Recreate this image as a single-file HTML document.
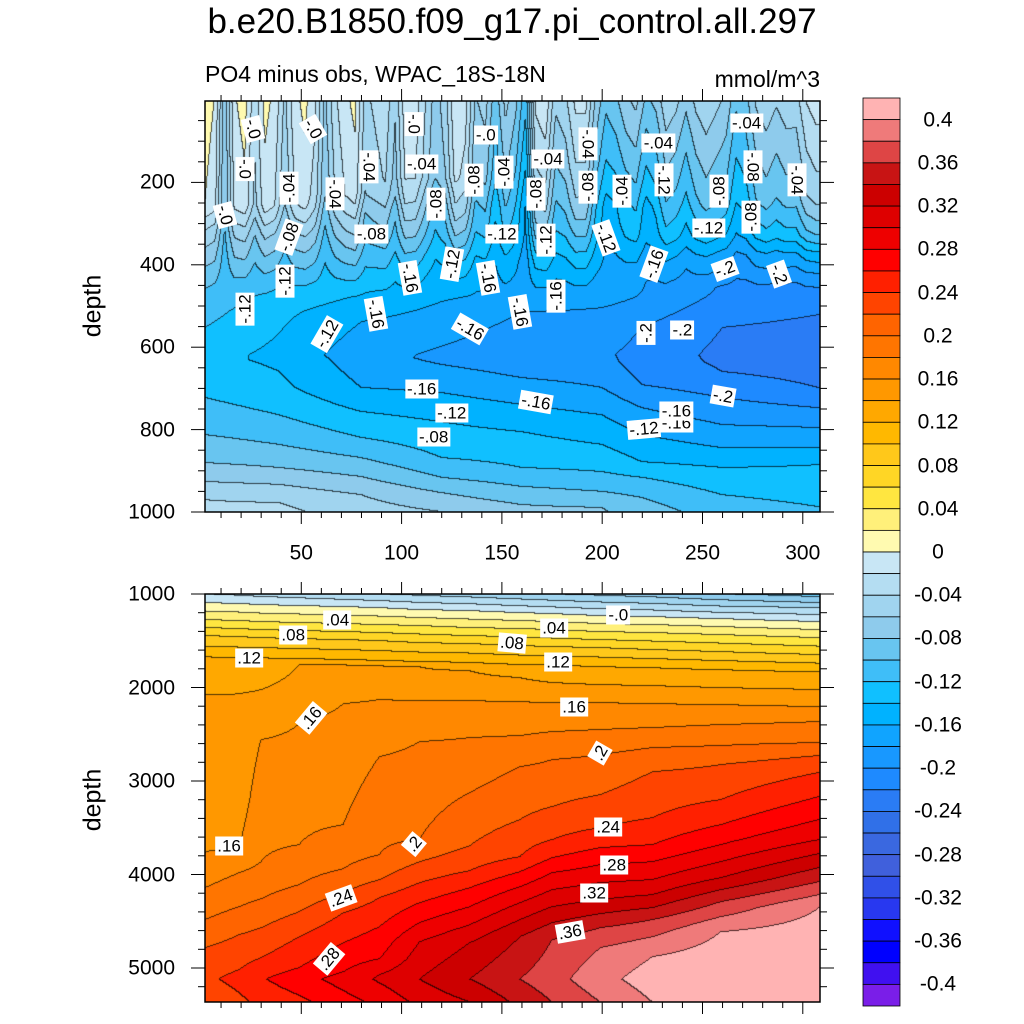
<!DOCTYPE html>
<html><head><meta charset="utf-8"><style>
body{margin:0;width:1024px;height:1024px;background:#fff;position:relative;overflow:hidden;font-family:"Liberation Sans",sans-serif;}
.abs{position:absolute;}
.clab{position:absolute;background:#fff;color:#000;font-size:17px;line-height:17px;padding:1px 2px;white-space:nowrap;transform-origin:center center;}
.tl{position:absolute;font-size:21px;line-height:21px;white-space:nowrap;}
</style></head>
<body>
<div class="abs" style="left:0;width:1024px;top:2px;text-align:center;font-size:35px;line-height:40px;">b.e20.B1850.f09_g17.pi_control.all.297</div>
<div class="abs" style="left:205px;top:62px;font-size:23px;line-height:24px;">PO4 minus obs, WPAC_18S-18N</div>
<div class="abs" style="left:660px;width:160px;top:67px;font-size:23px;line-height:24px;text-align:right;">mmol/m^3</div>
<div class="abs" style="left:93px;top:306px;font-size:25px;line-height:25px;transform:translate(-50%,-50%) rotate(-90deg);">depth</div>
<div class="abs" style="left:93px;top:800px;font-size:25px;line-height:25px;transform:translate(-50%,-50%) rotate(-90deg);">depth</div>
<canvas id="c1" class="abs" width="615" height="411" style="left:205px;top:101px;"></canvas>
<canvas id="c2" class="abs" width="615" height="408" style="left:205px;top:594px;"></canvas>
<svg id="ax" class="abs" width="1024" height="1024" style="left:0;top:0;"></svg>
<div id="lab" class="abs" style="left:0;top:0;width:1024px;height:1024px;"></div>
<script>
// ---------- data ----------
const levelStep = 0.02;
const colorList = ["#7a1ee8","#4010f0","#0000ff","#1010ff","#2838f0","#3050e8","#4060dc","#3a68e0","#3070e8","#2a7cf5","#1e8aff","#1898ff","#10a4ff","#00b2ff","#10c0ff","#3fbef8","#68c5f0","#8ecbec","#a0d4ef","#b4ddf2","#c8e6f5",
"#fffab0","#fff07a","#ffe640","#ffd625","#ffc81a","#ffb800","#ffa800","#ff9800","#ff8800","#ff7500","#ff6400","#ff4400","#ff2000","#ff0000","#ee0000","#de0000","#cc0000","#c81414","#de4545","#ef7a7a","#ffb3b3"];
const cbarLabels = ["0.4","0.36","0.32","0.28","0.24","0.2","0.16","0.12","0.08","0.04","0","-0.04","-0.08","-0.12","-0.16","-0.2","-0.24","-0.28","-0.32","-0.36","-0.4"];
const xTickVals = [50,100,150,200,250,300];
const yTopTickVals = [200,400,600,800,1000];
const yBotTickVals = [1000,2000,3000,4000,5000];

// top panel: columns (x units) and depth/value profiles
const topCols = [2,39,80,120,160,200,220,260,308];
const topProfiles = [
 [[5,-0.02],[255,-0.03],[311,-0.06],[369,-0.08],[442,-0.10],[553,-0.12],[631,-0.135],[723,-0.12],[813,-0.10],[881,-0.08],[927,-0.06],[971,-0.04],[1000,-0.035]],
 [[5,-0.025],[255,-0.04],[296,-0.06],[335,-0.08],[393,-0.10],[449,-0.12],[515,-0.135],[619,-0.145],[699,-0.135],[765,-0.12],[837,-0.10],[893,-0.08],[934,-0.06],[978,-0.04],[1000,-0.035]],
 [[5,-0.025],[231,-0.04],[272,-0.06],[328,-0.08],[376,-0.10],[425,-0.12],[473,-0.14],[539,-0.16],[619,-0.172],[699,-0.16],[757,-0.14],[820,-0.12],[869,-0.10],[915,-0.08],[959,-0.06],[1000,-0.05]],
 [[5,-0.03],[189,-0.04],[231,-0.06],[286,-0.08],[335,-0.10],[376,-0.12],[425,-0.14],[490,-0.16],[626,-0.185],[711,-0.16],[782,-0.14],[869,-0.12],[917,-0.10],[954,-0.08],[1000,-0.06]],
 [[5,-0.035],[165,-0.06],[255,-0.08],[311,-0.10],[352,-0.12],[393,-0.14],[449,-0.16],[515,-0.18],[619,-0.195],[675,-0.18],[740,-0.16],[806,-0.14],[893,-0.12],[939,-0.10],[983,-0.08],[1000,-0.075]],
 [[5,-0.035],[150,-0.06],[231,-0.08],[296,-0.10],[345,-0.12],[393,-0.14],[442,-0.16],[505,-0.18],[619,-0.196],[699,-0.18],[765,-0.16],[837,-0.14],[903,-0.12],[951,-0.10],[990,-0.08],[1000,-0.078]],
 [[5,-0.035],[200,-0.08],[328,-0.12],[408,-0.16],[473,-0.18],[553,-0.20],[636,-0.21],[692,-0.20],[748,-0.18],[813,-0.16],[879,-0.14],[917,-0.12],[966,-0.10],[1000,-0.09]],
 [[5,-0.035],[255,-0.08],[328,-0.12],[384,-0.16],[425,-0.18],[456,-0.20],[553,-0.22],[619,-0.225],[660,-0.22],[723,-0.20],[789,-0.18],[845,-0.16],[893,-0.14],[959,-0.12],[1000,-0.11]],
 [[5,-0.04],[231,-0.08],[328,-0.12],[376,-0.16],[408,-0.18],[442,-0.20],[522,-0.22],[619,-0.235],[699,-0.22],[748,-0.20],[796,-0.18],[845,-0.16],[886,-0.14],[988,-0.12],[1000,-0.117]]
];
// near-surface stripe anomalies, one per 5 x units starting at x=2
const stripeStart = 2, stripeStep = 5;
const stripeVals = [0.03,0.02,-0.05,0.02,0.03,-0.01,0.03,0.02,-0.02,0.02,0.03,0.01,-0.04,0.0,0.02,0.03,-0.02,-0.01,0.0,-0.03,0.02,0.02,-0.01,-0.04,-0.02,0.03,0.02,-0.03,-0.02,-0.06,-0.02,-0.04,-0.08,0.02,0.03,-0.02,-0.01,0.02,0.02,-0.03,-0.06,-0.05,-0.03,-0.02,-0.05,-0.04,-0.01,-0.02,-0.04,-0.02,-0.01,-0.02,-0.03,-0.06,-0.05,-0.02,-0.01,-0.02,-0.01,-0.01,0.02,0.03];

// bottom panel
const botCols = [2,19,30,49,71,89,109,134,159,175,199,225,259,308];
const botProfiles = [
 [[1000,-0.02],[1096,0],[1278,0.04],[1449,0.08],[1674,0.12],[2081,0.14],[2776,0.15],[3771,0.16],[4146,0.18],[4488,0.20],[4788,0.22],[5120,0.235],[5366,0.222]],
 [[1000,-0.024],[1107,0],[1289,0.04],[1460,0.08],[1685,0.12],[2070,0.14],[3204,0.15],[3739,0.16],[3985,0.18],[4349,0.20],[4649,0.22],[5023,0.24],[5120,0.247],[5366,0.235]],
 [[1000,-0.027],[1118,0],[1300,0.04],[1471,0.08],[1685,0.12],[2027,0.14],[2562,0.16],[3204,0.17],[3868,0.18],[4264,0.20],[4574,0.22],[4895,0.24],[5120,0.258],[5366,0.245]],
 [[1000,-0.031],[1128,0],[1310,0.04],[1482,0.08],[1696,0.12],[1760,0.14],[2391,0.16],[2990,0.17],[3686,0.18],[4114,0.20],[4403,0.22],[4670,0.24],[5000,0.26],[5120,0.272],[5366,0.255]],
 [[1000,-0.036],[1139,0],[1321,0.04],[1492,0.08],[1706,0.12],[1760,0.14],[2177,0.16],[2776,0.17],[3472,0.18],[3943,0.20],[4199,0.22],[4413,0.24],[4734,0.26],[5045,0.28],[5120,0.288],[5366,0.272]],
 [[1000,-0.04],[1150,0],[1332,0.04],[1503,0.08],[1717,0.12],[1771,0.14],[2134,0.16],[2423,0.17],[2744,0.18],[3793,0.20],[4060,0.22],[4253,0.24],[4563,0.26],[4906,0.28],[5077,0.30],[5120,0.303],[5366,0.285]],
 [[1000,-0.045],[1171,0],[1342,0.04],[1524,0.08],[1728,0.12],[1781,0.14],[2145,0.16],[2370,0.17],[2584,0.18],[3632,0.20],[3868,0.22],[4092,0.24],[4306,0.26],[4520,0.28],[4724,0.30],[5120,0.32],[5366,0.305]],
 [[1000,-0.05],[1182,0],[1364,0.04],[1535,0.08],[1738,0.12],[1824,0.14],[2145,0.16],[2541,0.18],[3129,0.20],[3696,0.22],[3964,0.24],[4146,0.26],[4349,0.28],[4542,0.30],[4734,0.32],[5120,0.34],[5366,0.32]],
 [[1000,-0.056],[1203,0],[1374,0.04],[1556,0.08],[1760,0.12],[1899,0.14],[2156,0.16],[2519,0.18],[2851,0.20],[3418,0.22],[3814,0.24],[3975,0.26],[4135,0.28],[4306,0.30],[4488,0.32],[4670,0.34],[5120,0.36],[5366,0.345]],
 [[1000,-0.06],[1214,0],[1385,0.04],[1567,0.08],[1760,0.12],[1952,0.14],[2166,0.16],[2477,0.18],[2776,0.20],[3279,0.22],[3632,0.24],[3825,0.26],[3985,0.28],[4167,0.30],[4349,0.32],[4520,0.34],[4702,0.36],[5120,0.372],[5366,0.36]],
 [[1000,-0.065],[1235,0],[1407,0.04],[1578,0.08],[1781,0.12],[1974,0.14],[2166,0.16],[2455,0.18],[2723,0.20],[3151,0.22],[3504,0.24],[3718,0.26],[3900,0.28],[4092,0.30],[4274,0.32],[4424,0.34],[4574,0.36],[4788,0.38],[5120,0.393],[5366,0.38]],
 [[1000,-0.07],[1246,0],[1417,0.04],[1599,0.08],[1792,0.12],[1985,0.14],[2177,0.16],[2434,0.18],[2648,0.20],[2905,0.22],[3397,0.24],[3686,0.26],[3868,0.28],[4060,0.30],[4221,0.32],[4360,0.34],[4488,0.36],[4670,0.38],[4884,0.40],[5120,0.41],[5366,0.40]],
 [[1000,-0.08],[1268,0],[1439,0.04],[1621,0.08],[1813,0.12],[2006,0.14],[2188,0.16],[2402,0.18],[2626,0.20],[2830,0.22],[3204,0.24],[3472,0.26],[3686,0.28],[3868,0.30],[4039,0.32],[4167,0.34],[4296,0.36],[4456,0.38],[4617,0.40],[5120,0.42],[5366,0.41]],
 [[1000,-0.09],[1096,-0.06],[1150,-0.04],[1225,-0.02],[1300,0],[1471,0.04],[1653,0.08],[1835,0.12],[2027,0.14],[2209,0.16],[2370,0.18],[2594,0.20],[2733,0.22],[2915,0.24],[3172,0.26],[3418,0.28],[3632,0.30],[3782,0.32],[3932,0.34],[4082,0.36],[4221,0.38],[4360,0.40],[5120,0.43],[5366,0.425]]
];

// contour labels: [x units, depth, text, rotation]
const topLabelX = [26,56,106,142,193,228,272,173,110,22,44,84,67,151,136,117,167,193,210,231,258,275,274,297,12,44,85,150,125,172,202,226,253,261,288,42,22,104,143,87,177,159,134,222,240,110,167,260,237,63,237,125,221,116];
const topLabelD = [70,70,58,85,108,105,56,143,155,167,214,162,229,174,193,253,229,210,222,193,222,162,283,193,280,333,326,326,398,340,335,398,310,409,422,439,507,432,432,519,476,515,555,566,558,702,733,719,783,568,756,760,798,819];
const topLabelText = ["-.0","-.0","-.0","-.0","-.04","-.04","-.04","-.04","-.04","-.0","-.04","-.04","-.04","-.04","-.08","-.08","-.08","-.08","-.04","-.12","-.08","-.08","-.08","-.04","-.0","-.08","-.08","-.12","-.12","-.12","-.12","-.16","-.12","-.2","-.2","-.12","-.12","-.16","-.16","-.16","-.16","-.16","-.16","-.2","-.2","-.16","-.16","-.2","-.16","-.12","-.16","-.12","-.12","-.08"];
const topLabelRot = [75,60,90,0,90,0,0,0,0,90,-90,90,90,-90,-90,-90,-90,-90,-90,90,-90,90,-90,90,75,-70,0,0,-80,-90,70,-70,0,-20,70,-90,-90,80,80,80,-90,80,30,-90,0,0,10,10,0,-60,0,0,-5,0];
const botLabelX = [68,46,24,176,208,155,178,55,186,199,14,106,203,206,70,196,184,64];
const botLabelD = [1278,1439,1685,1364,1225,1524,1728,2327,2209,2701,3691,3675,3493,3900,4253,4199,4616,4906];
const botLabelText = [".04",".08",".12",".04","-.0",".08",".12",".16",".16",".2",".16",".2",".24",".28",".24",".32",".36",".28"];
const botLabelRot = [0,0,0,0,0,5,0,-50,0,-60,0,-50,0,0,-20,0,-10,-50];

// ---------- axis functions ----------
const X0 = 205, XU0 = 2, XS = 2.006;
function xPx(u){ return X0 + (u - XU0) * XS; }
function yTop(d){ return 512 - (1000 - d) * 0.412; }
function yBot(d){ return 594 + (d - 1000) * 0.0935; }
function uFromPx(px){ return XU0 + (px - X0) / XS; }
function dTopFromPx(py){ return 1000 - (512 - py) / 0.412; }
function dBotFromPx(py){ return 1000 + (py - 594) / 0.0935; }
function levelIdx(v){ let i = Math.floor((v + 0.4) / levelStep) + 1; return Math.max(0, Math.min(41, i)); }
function profVal(k, d){
  if (d <= k[0][0]) return k[0][1];
  for (let i = 1; i < k.length; i++){ if (d <= k[i][0]){ const a = k[i-1], b = k[i]; return a[1] + (b[1]-a[1]) * (d - a[0]) / (b[0]-a[0]); } }
  return k[k.length-1][1];
}
function hex(c){ return [parseInt(c.substr(1,2),16),parseInt(c.substr(3,2),16),parseInt(c.substr(5,2),16)]; }
const rgb = colorList.map(hex);

function render(canvasId, cols, profs, yToD, pxTop, useStripe){
  const cv = document.getElementById(canvasId), ctx = cv.getContext('2d');
  const W = cv.width, H = cv.height;
  const img = ctx.createImageData(W, H);
  const idx = new Int16Array(W*H);
  const uj = [], ut = [], us = [];
  for (let x = 0; x < W; x++){
    const u = uFromPx(X0 + x + 0.5);
    let j = 0; while (j < cols.length - 2 && u > cols[j+1]) j++;
    let t = (u - cols[j]) / (cols[j+1] - cols[j]); t = Math.max(0, Math.min(1, t));
    uj.push(j); ut.push(t);
    const sf = (u - stripeStart) / stripeStep; let si = Math.floor(sf); si = Math.max(0, Math.min(stripeVals.length - 2, si));
    const st = Math.max(0, Math.min(1, sf - si));
    us.push(stripeVals[si] * (1 - st) + stripeVals[si+1] * st);
  }
  for (let y = 0; y < H; y++){
    const d = yToD(pxTop + y + 0.5);
    const cv2 = profs.map(p => profVal(p, d));
    let w = 0;
    if (useStripe){ w = d < 260 ? 1 : (d > 480 ? 0 : (480 - d) / 220); }
    for (let x = 0; x < W; x++){
      let v = cv2[uj[x]] * (1 - ut[x]) + cv2[uj[x]+1] * ut[x];
      v += us[x] * w;
      idx[y*W + x] = levelIdx(v);
    }
  }
  for (let y = 0; y < H; y++){
    for (let x = 0; x < W; x++){
      const i = idx[y*W + x];
      let c = rgb[i];
      let line = (x < W-1 && idx[y*W+x+1] !== i) || (y < H-1 && idx[(y+1)*W+x] !== i);
      const o = (y*W + x) * 4;
      const f = line ? 0.3 : 1;
      img.data[o] = c[0]*f; img.data[o+1] = c[1]*f; img.data[o+2] = c[2]*f; img.data[o+3] = 255;
    }
  }
  ctx.putImageData(img, 0, 0);
}
render('c1', topCols, topProfiles, dTopFromPx, 101, true);
render('c2', botCols, botProfiles, dBotFromPx, 594, false);

// ---------- axes ----------
const svg = document.getElementById('ax');
const NS = 'http://www.w3.org/2000/svg';
function line(x1,y1,x2,y2,name,sw){
  const l = document.createElementNS(NS,'line');
  l.setAttribute('x1',x1); l.setAttribute('y1',y1); l.setAttribute('x2',x2); l.setAttribute('y2',y2);
  l.setAttribute('stroke','#000'); l.setAttribute('stroke-width',sw||1);
  
  
  svg.appendChild(l);
}
function rect(x,y,w,h,name,fill){
  const r = document.createElementNS(NS,'rect');
  r.setAttribute('x',x); r.setAttribute('y',y); r.setAttribute('width',w); r.setAttribute('height',h);
  r.setAttribute('fill',fill||'none'); r.setAttribute('stroke','#000'); r.setAttribute('stroke-width',fill?0.8:1.5);
  
  
  svg.appendChild(r);
}
const panels = [{top:101,bot:512,yf:yTop,maj:yTopTickVals,minStart:50,minEnd:1000,minStep:50},
                {top:594,bot:1002,yf:yBot,maj:yBotTickVals,minStart:1000,minEnd:5364,minStep:200}];
panels.forEach((p,pi)=>{
  for (let u = 10; u <= 308; u += 10){
    const x = xPx(u); const major = xTickVals.indexOf(u) >= 0; const L = major ? 12 : 6;
    line(x,p.bot,x,p.bot+L,'x-tick',1); line(x,p.top,x,p.top-L,'x-tick-top',1);
  }
  for (let d = p.minStart; d <= p.minEnd; d += p.minStep){
    const y = p.yf(d); const major = p.maj.indexOf(d) >= 0; const L = major ? 14 : 7;
    line(205,y,205-L,y,'y-tick',1); line(820,y,820+L,y,'y-tick-right',1);
  }
  rect(205,p.top,615,p.bot-p.top, pi===0?'top-plot-frame':'bottom-plot-frame');
});
// colorbar
const cbTop = 98, cbBot = 1006, cbH = (cbBot - cbTop) / 42;
for (let k = 0; k < 42; k++){
  rect(863, cbTop + k*cbH, 37, cbH, 'colorbar-box', colorList[41-k]);
}
const lab = document.getElementById('lab');
function addText(x,y,t,cls,name,align){
  const el = document.createElement('div');
  
  
  el.className = cls; el.textContent = t;
  el.style.left = x + 'px'; el.style.top = y + 'px';
  el.style.transform = align === 'r' ? 'translate(-100%,-50%)' : (align === 'l' ? 'translate(0,-50%)' : 'translate(-50%,-50%)');
  lab.appendChild(el);
}
cbarLabels.forEach((t,i)=>{ addText(938, cbTop + (2*i+1)*cbH, t, 'tl', 'colorbar-label', 'c'); });
xTickVals.forEach(v=>{ addText(xPx(v), 553, String(v), 'tl', 'x-tick-label', 'c'); });
yTopTickVals.forEach(v=>{ addText(175, yTop(v), String(v), 'tl', 'y-tick-label-top', 'r'); });
yBotTickVals.forEach(v=>{ addText(175, yBot(v), String(v), 'tl', 'y-tick-label-bottom', 'r'); });
function addCLabel(x,y,t,rot){
  const el = document.createElement('div');
  
  
  el.className = 'clab'; el.textContent = t;
  el.style.left = x + 'px'; el.style.top = y + 'px';
  el.style.transform = 'translate(-50%,-50%) rotate(' + rot + 'deg)';
  lab.appendChild(el);
}
topLabelText.forEach((t,i)=>{ addCLabel(xPx(topLabelX[i]), yTop(topLabelD[i]), t, topLabelRot[i]); });
botLabelText.forEach((t,i)=>{ addCLabel(xPx(botLabelX[i]), yBot(botLabelD[i]), t, botLabelRot[i]); });
</script>
</body></html>
